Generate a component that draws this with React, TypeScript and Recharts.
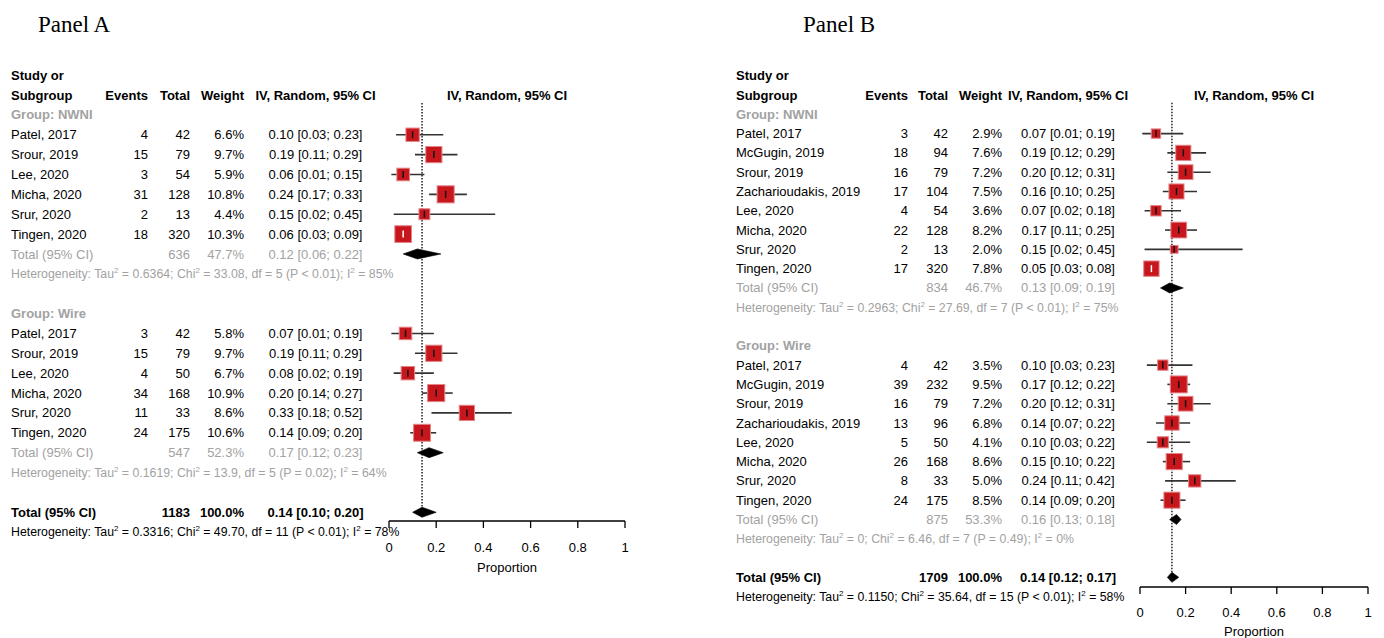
import React from 'react';
import {
  ScatterChart,
  Scatter,
  XAxis,
  YAxis,
  ErrorBar,
  ReferenceLine,
  ReferenceDot,
} from 'recharts';

const FONT = '"Liberation Sans", Arial, Helvetica, sans-serif';
const GRAY = '#a2a2a2';
const RED = '#c8161d';
const RED_EDGE = '#e3868a';
const CI_COLOR = '#333333';

const HEADERS = ['Study or', 'Subgroup', 'Events', 'Total', 'Weight', 'IV, Random, 95% CI'];
const X_TICKS = [0, 0.2, 0.4, 0.6, 0.8, 1];

// study, events, total, weight (%), proportion, lower, upper
const A_NWNI = [
  ['Patel, 2017', 4, 42, 6.6, 0.1, 0.03, 0.23],
  ['Srour, 2019', 15, 79, 9.7, 0.19, 0.11, 0.29],
  ['Lee, 2020', 3, 54, 5.9, 0.06, 0.01, 0.15],
  ['Micha, 2020', 31, 128, 10.8, 0.24, 0.17, 0.33],
  ['Srur, 2020', 2, 13, 4.4, 0.15, 0.02, 0.45],
  ['Tingen, 2020', 18, 320, 10.3, 0.06, 0.03, 0.09],
];
const A_NWNI_TOTAL = [636, 47.7, 0.12, 0.06, 0.22];
const A_NWNI_HET = ['0.6364', '33.08', '5', '< 0.01', '85'];

const A_WIRE = [
  ['Patel, 2017', 3, 42, 5.8, 0.07, 0.01, 0.19],
  ['Srour, 2019', 15, 79, 9.7, 0.19, 0.11, 0.29],
  ['Lee, 2020', 4, 50, 6.7, 0.08, 0.02, 0.19],
  ['Micha, 2020', 34, 168, 10.9, 0.2, 0.14, 0.27],
  ['Srur, 2020', 11, 33, 8.6, 0.33, 0.18, 0.52],
  ['Tingen, 2020', 24, 175, 10.6, 0.14, 0.09, 0.2],
];
const A_WIRE_TOTAL = [547, 52.3, 0.17, 0.12, 0.23];
const A_WIRE_HET = ['0.1619', '13.9', '5', '= 0.02', '64'];

const A_OVERALL = [1183, 100.0, 0.14, 0.1, 0.2];
const A_OVERALL_HET = ['0.3316', '49.70', '11', '< 0.01', '78'];

const B_NWNI = [
  ['Patel, 2017', 3, 42, 2.9, 0.07, 0.01, 0.19],
  ['McGugin, 2019', 18, 94, 7.6, 0.19, 0.12, 0.29],
  ['Srour, 2019', 16, 79, 7.2, 0.2, 0.12, 0.31],
  ['Zacharioudakis, 2019', 17, 104, 7.5, 0.16, 0.1, 0.25],
  ['Lee, 2020', 4, 54, 3.6, 0.07, 0.02, 0.18],
  ['Micha, 2020', 22, 128, 8.2, 0.17, 0.11, 0.25],
  ['Srur, 2020', 2, 13, 2.0, 0.15, 0.02, 0.45],
  ['Tingen, 2020', 17, 320, 7.8, 0.05, 0.03, 0.08],
];
const B_NWNI_TOTAL = [834, 46.7, 0.13, 0.09, 0.19];
const B_NWNI_HET = ['0.2963', '27.69', '7', '< 0.01', '75'];

const B_WIRE = [
  ['Patel, 2017', 4, 42, 3.5, 0.1, 0.03, 0.23],
  ['McGugin, 2019', 39, 232, 9.5, 0.17, 0.12, 0.22],
  ['Srour, 2019', 16, 79, 7.2, 0.2, 0.12, 0.31],
  ['Zacharioudakis, 2019', 13, 96, 6.8, 0.14, 0.07, 0.22],
  ['Lee, 2020', 5, 50, 4.1, 0.1, 0.03, 0.22],
  ['Micha, 2020', 26, 168, 8.6, 0.15, 0.1, 0.22],
  ['Srur, 2020', 8, 33, 5.0, 0.24, 0.11, 0.42],
  ['Tingen, 2020', 24, 175, 8.5, 0.14, 0.09, 0.2],
];
const B_WIRE_TOTAL = [875, 53.3, 0.16, 0.13, 0.18];
const B_WIRE_HET = ['0', '6.46', '7', '= 0.49', '0'];

const B_OVERALL = [1709, 100.0, 0.14, 0.12, 0.17];
const B_OVERALL_HET = ['0.1150', '35.64', '15', '< 0.01', '58'];

const PANEL_A = {
  title: 'Panel A',
  groups: [
    ['NWNI', A_NWNI, A_NWNI_TOTAL, A_NWNI_HET],
    ['Wire', A_WIRE, A_WIRE_TOTAL, A_WIRE_HET],
  ],
  overall: A_OVERALL,
  overallHet: A_OVERALL_HET,
  left: 0,
  width: 692,
  titleX: 38,
  margin: { top: 95, right: 67, bottom: 0, left: 389 },
  yMax: 20.44,
  axisH: 117,
  tickMargin: 15,
  labelOffset: 42,
  k: 5.2,
  cols: { name: 11, events: 148, total: 190, weight: 244, ci: 315.5 },
};

const PANEL_B = {
  title: 'Panel B',
  groups: [
    ['NWNI', B_NWNI, B_NWNI_TOTAL, B_NWNI_HET],
    ['Wire', B_WIRE, B_WIRE_TOTAL, B_WIRE_HET],
  ],
  overall: B_OVERALL,
  overallHet: B_OVERALL_HET,
  left: 692,
  width: 692,
  titleX: 111,
  margin: { top: 95, right: 16, bottom: 0, left: 448 },
  yMax: 24.5,
  axisH: 51,
  tickMargin: 14,
  labelOffset: 40,
  k: 5.5,
  cols: { name: 44, events: 216, total: 256, weight: 310, ci: 376 },
};

const f2 = (v: number) => v.toFixed(2);
const ciText = (r: any) => `${f2(r.est)} [${f2(r.lo)}; ${f2(r.hi)}]`;
const pct = (w: number) => `${w.toFixed(1)}%`;

function buildRows(groups: any[], overall: any[], overallHet: string[]) {
  const rows: any[] = [];
  let r = 0;
  groups.forEach(([name, studies, total, het]) => {
    rows.push({ kind: 'group', y: r++, label: `Group: ${name}` });
    studies.forEach((s: any[]) => {
      rows.push({
        kind: 'study', y: r++, x: s[4], label: s[0], events: s[1], total: s[2],
        weight: s[3], est: s[4], lo: s[5], hi: s[6], err: [s[4] - s[5], s[6] - s[4]],
      });
    });
    rows.push({ kind: 'subtotal', y: r++, total: total[0], weight: total[1], est: total[2], lo: total[3], hi: total[4] });
    rows.push({ kind: 'subhet', y: r++, het });
    r++;
  });
  rows.push({ kind: 'overall', y: r++, total: overall[0], weight: overall[1], est: overall[2], lo: overall[3], hi: overall[4] });
  rows.push({ kind: 'overallhet', y: r++, het: overallHet });
  return rows;
}

function Txt({ x, y, anchor = 'start', bold = false, color = '#000', size = 13, children }: any) {
  return (
    <text x={x} y={y} dy="0.35em" textAnchor={anchor} fontFamily={FONT} fontSize={size}
      fontWeight={bold ? 'bold' : 'normal'} fill={color}>
      {children}
    </text>
  );
}

function HetText({ x, y, het, color }: any) {
  const [tau, chi, df, p, i2] = het;
  return (
    <text x={x} y={y} dy="0.35em" fontFamily={FONT} fontSize={12.3} fill={color}>
      Heterogeneity: Tau
      <tspan dy={-5} fontSize={8}>2</tspan>
      <tspan dy={5}>{` = ${tau}; Chi`}</tspan>
      <tspan dy={-5} fontSize={8}>2</tspan>
      <tspan dy={5}>{` = ${chi}, df = ${df} (P ${p}); I`}</tspan>
      <tspan dy={-5} fontSize={8}>2</tspan>
      <tspan dy={5}>{` = ${i2}%`}</tspan>
    </text>
  );
}

function TableRow({ cx, cy, payload, cols }: any) {
  const p = payload;
  const c = cols;
  switch (p.kind) {
    case 'studyor':
      return <Txt x={c.name} y={cy} bold>{HEADERS[0]}</Txt>;
    case 'header':
      return (
        <g>
          <Txt x={c.name} y={cy} bold>{HEADERS[1]}</Txt>
          <Txt x={c.events} y={cy} bold anchor="end">{HEADERS[2]}</Txt>
          <Txt x={c.total} y={cy} bold anchor="end">{HEADERS[3]}</Txt>
          <Txt x={c.weight} y={cy} bold anchor="end">{HEADERS[4]}</Txt>
          <Txt x={c.ci} y={cy} bold anchor="middle">{HEADERS[5]}</Txt>
          <Txt x={cx} y={cy} bold anchor="middle">{HEADERS[5]}</Txt>
        </g>
      );
    case 'group':
      return <Txt x={c.name} y={cy} bold color={GRAY}>{p.label}</Txt>;
    case 'study':
      return (
        <g>
          <Txt x={c.name} y={cy}>{p.label}</Txt>
          <Txt x={c.events} y={cy} anchor="end">{p.events}</Txt>
          <Txt x={c.total} y={cy} anchor="end">{p.total}</Txt>
          <Txt x={c.weight} y={cy} anchor="end">{pct(p.weight)}</Txt>
          <Txt x={c.ci} y={cy} anchor="middle">{ciText(p)}</Txt>
        </g>
      );
    case 'subtotal':
    case 'overall': {
      const bold = p.kind === 'overall';
      const color = bold ? '#000' : GRAY;
      return (
        <g>
          <Txt x={c.name} y={cy} bold={bold} color={color}>Total (95% CI)</Txt>
          <Txt x={c.total} y={cy} anchor="end" bold={bold} color={color}>{p.total}</Txt>
          <Txt x={c.weight} y={cy} anchor="end" bold={bold} color={color}>{pct(p.weight)}</Txt>
          <Txt x={c.ci} y={cy} anchor="middle" bold={bold} color={color}>{ciText(p)}</Txt>
        </g>
      );
    }
    case 'subhet':
      return <HetText x={c.name} y={cy} het={p.het} color={GRAY} />;
    case 'overallhet':
      return <HetText x={c.name} y={cy} het={p.het} color="#000" />;
    default:
      return <g />;
  }
}

function Square({ cx, cy, payload, k, inside }: any) {
  const s = k * Math.sqrt(payload.weight);
  return (
    <g>
      <rect x={cx - s / 2} y={cy - s / 2} width={s} height={s} fill={RED} stroke={RED_EDGE} strokeWidth={1} />
      <line x1={cx} x2={cx} y1={cy - 3.5} y2={cy + 3.5} stroke={inside ? '#fff' : '#111'} strokeWidth={1.5} />
    </g>
  );
}

const blank = () => <g />;

const diamondLine = (props: any) => {
  const pts = props.points || [];
  if (pts.length < 3) return <g />;
  const [l, m, r] = pts;
  const h = 5;
  return (
    <polygon
      points={`${l.x},${l.y} ${m.x},${m.y - h} ${r.x},${r.y} ${m.x},${m.y + h}`}
      fill="#000"
      stroke="#000"
      strokeWidth={0.6}
    />
  );
};

function Panel({ cfg }: any) {
  const rows = buildRows(cfg.groups, cfg.overall, cfg.overallHet);
  const studies = rows.filter((r) => r.kind === 'study');
  const plotW = cfg.width - cfg.margin.left - cfg.margin.right;
  const isInside = (r: any) => (r.hi - r.lo) * plotW < cfg.k * Math.sqrt(r.weight);
  const summaries = rows.filter((r) => r.kind === 'subtotal' || r.kind === 'overall');
  const overallRow = rows.find((r) => r.kind === 'overall');
  const textRows = [{ kind: 'header', y: -1 }, ...rows]
    .filter((r) => r.y <= cfg.yMax)
    .map((r) => ({ ...r, x: 0.5 }));
  const extraRows = [{ kind: 'studyor', y: -2 }, ...rows.filter((r) => r.y > cfg.yMax)];
  const rowShape = (p: any) => <TableRow {...p} cols={cfg.cols} />;

  return (
    <div style={{ position: 'absolute', left: cfg.left, top: 0, width: cfg.width, height: 638 }}>
      <div
        style={{
          position: 'absolute', left: cfg.titleX, top: 13, fontFamily: '"Liberation Serif", "Times New Roman", serif',
          fontSize: 23, lineHeight: 1, color: '#000', whiteSpace: 'nowrap',
        }}
      >
        {cfg.title}
      </div>
      <ScatterChart width={cfg.width} height={638} margin={cfg.margin}>
        <XAxis
          type="number"
          dataKey="x"
          domain={[0, 1]}
          ticks={X_TICKS}
          interval={0}
          tickFormatter={(v: number) => String(v)}
          height={cfg.axisH}
          tickSize={7}
          tickMargin={cfg.tickMargin}
          axisLine={{ stroke: '#000', strokeWidth: 1.3 }}
          tickLine={{ stroke: '#000', strokeWidth: 1.3 }}
          tick={{ fill: '#000', fontSize: 13, fontFamily: FONT }}
          label={{ value: 'Proportion', position: 'insideTop', offset: cfg.labelOffset, fill: '#000', fontSize: 13, fontFamily: FONT }}
        />
        <YAxis type="number" dataKey="y" domain={[-1, cfg.yMax]} reversed hide />
        <ReferenceLine
          segment={[{ x: overallRow.est, y: -0.6 }, { x: overallRow.est, y: overallRow.y }]}
          stroke="#000"
          strokeWidth={1.3}
          strokeDasharray="1.5 1.5"
        />
        <Scatter data={textRows} shape={rowShape} isAnimationActive={false} />
        {extraRows.map((r) => (
          <ReferenceDot
            key={`extra-${r.y}`}
            x={0.5}
            y={r.y}
            ifOverflow="visible"
            shape={(p: any) => <TableRow cx={p.cx} cy={p.cy} payload={r} cols={cfg.cols} />}
          />
        ))}
        <Scatter
          data={studies}
          shape={(p: any) => <Square {...p} k={cfg.k} inside={isInside(p.payload)} />}
          isAnimationActive={false}
        />
        <Scatter data={studies.filter((r) => !isInside(r))} shape={blank} isAnimationActive={false}>
          <ErrorBar dataKey="err" direction="x" width={0} stroke={CI_COLOR} strokeWidth={1.6} isAnimationActive={false} />
        </Scatter>
        <Scatter data={studies.filter(isInside)} shape={blank} isAnimationActive={false}>
          <ErrorBar dataKey="err" direction="x" width={0} stroke="#ffffff" strokeWidth={1.6} isAnimationActive={false} />
        </Scatter>
        {summaries.map((s) => (
          <Scatter
            key={`diamond-${s.y}`}
            data={[{ x: s.lo, y: s.y }, { x: s.est, y: s.y }, { x: s.hi, y: s.y }]}
            shape={blank}
            line={diamondLine}
            isAnimationActive={false}
          />
        ))}
      </ScatterChart>
    </div>
  );
}

export default function App() {
  return (
    <div style={{ position: 'absolute', left: 0, top: 0, width: 1384, height: 638, background: '#fff' }}>
      <Panel cfg={PANEL_A} />
      <Panel cfg={PANEL_B} />
    </div>
  );
}
